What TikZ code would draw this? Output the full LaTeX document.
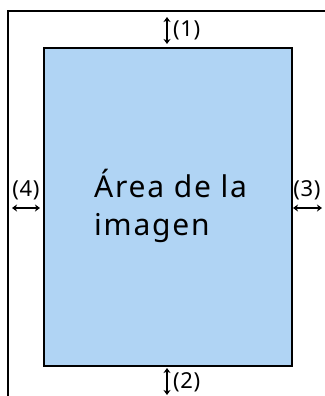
\documentclass[tikz,border=0pt]{standalone}
\usepackage{fontspec}
\setmainfont{Noto Sans}
\newfontfamily\widefont[LetterSpace=6]{Noto Sans}
\newfontfamily\labfont[LetterSpace=3]{Noto Sans}
\usetikzlibrary{arrows.meta}
\definecolor{areablue}{HTML}{B0D4F4}
\begin{document}
\begin{tikzpicture}[x=1pt,y=-1pt,
  frameline/.style={line width=2pt,black},
  dimarrow/.style={line width=1.6pt,{Stealth[length=5pt,width=7pt,inset=1.5pt]}-{Stealth[length=5pt,width=7pt,inset=1.5pt]}},
  lab/.style={font=\labfont\fontsize{22}{24}\selectfont,inner sep=0pt},
  big/.style={font=\widefont\fontsize{30}{38}\selectfont,inner sep=0pt,align=left}]
\useasboundingbox (0,0) rectangle (324,396);
% outer frame (partial)
\draw[frameline] (8,396) -- (8,11.5) -- (330,11.5);
% image area
\node[draw,line width=2pt,fill=areablue,minimum width=248pt,minimum height=318pt,anchor=north west,inner sep=0pt] (area) at (43,47) {};
\node[big,anchor=base west] (txt) at (94,235) {Área de la\\imagen};
% arrows
\coordinate (a1t) at (167,17);
\coordinate (a1b) at (167,44);
\draw[dimarrow] (a1t) -- (a1b);
\node[lab,anchor=west] (l1) at (173,30.5) {(1)};
\coordinate (a2t) at (167,368);
\coordinate (a2b) at (167,395);
\draw[dimarrow] (a2t) -- (a2b);
\node[lab,anchor=west] (l2) at (173,382) {(2)};
\coordinate (a4l) at (12,208);
\coordinate (a4r) at (40,208);
\draw[dimarrow] (a4l) -- (a4r);
\node[lab] (l4) at (26,190) {(4)};
\coordinate (a3l) at (293,208);
\coordinate (a3r) at (322,208);
\draw[dimarrow] (a3l) -- (a3r);
\node[lab] (l3) at (307,190) {(3)};
\end{tikzpicture}
\end{document}
